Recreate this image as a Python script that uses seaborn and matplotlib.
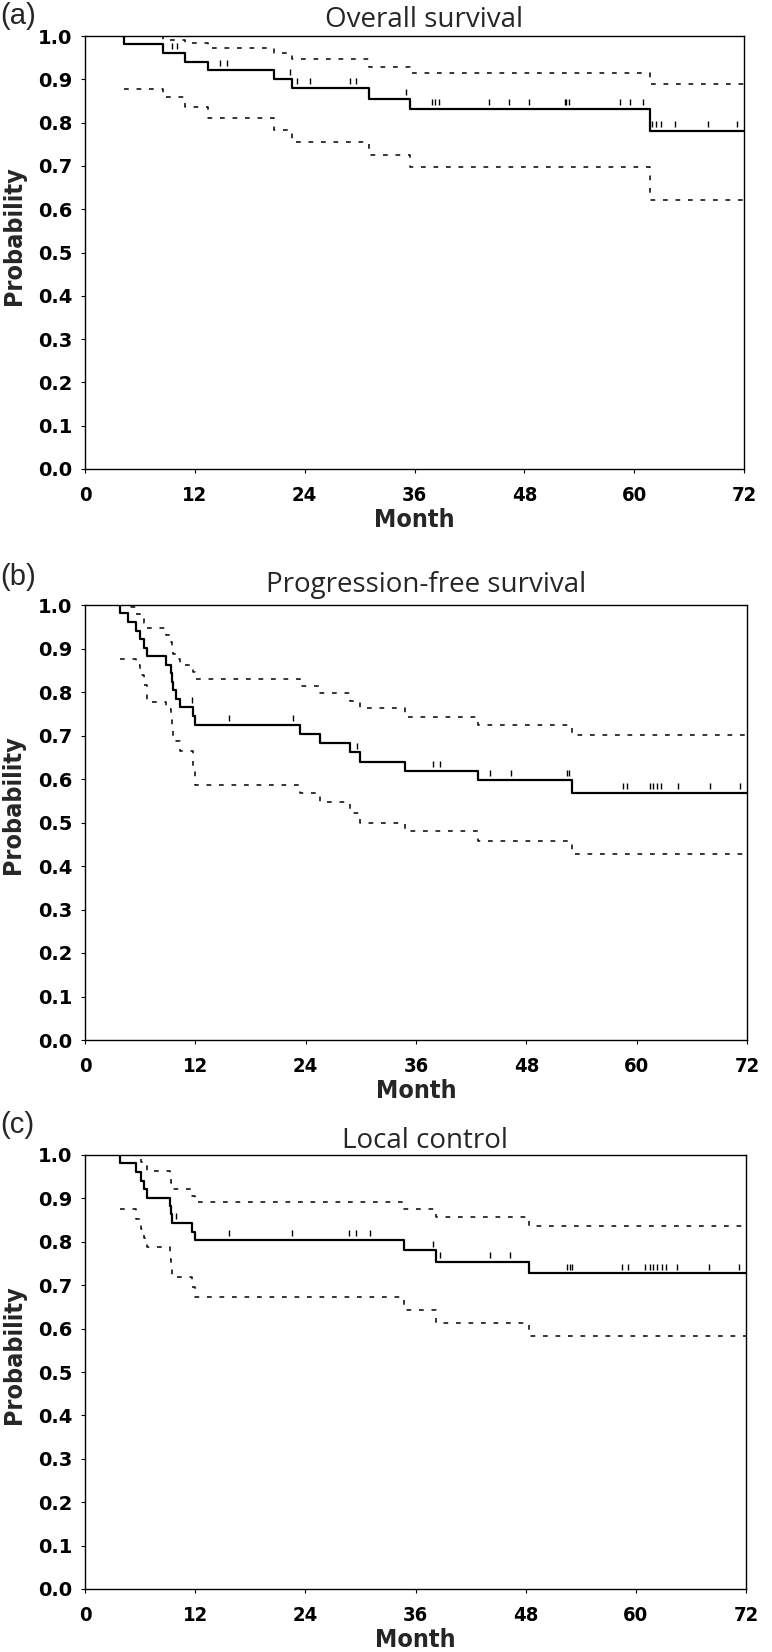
import numpy as np
import matplotlib
matplotlib.use("Agg")
import matplotlib.pyplot as plt
import seaborn as sns

# (a) Overall survival
os_time = [4.3, 8.5, 10.9, 13.4, 20.6, 22.6, 31.0, 35.5, 61.7]
os_surv = [0.981, 0.961, 0.940, 0.921, 0.901, 0.879, 0.854, 0.831, 0.781]
os_upper = [1.0, 0.991, 0.983, 0.972, 0.960, 0.946, 0.929, 0.914, 0.888]
os_lower = [0.877, 0.860, 0.835, 0.810, 0.783, 0.755, 0.725, 0.698, 0.621]
os_censor = [9.5, 10.0, 14.8, 15.5, 22.4, 23.2, 24.6, 28.9, 29.6, 35.1, 37.9, 38.2,
             38.7, 44.1, 46.3, 48.5, 52.4, 52.6, 52.9, 58.5, 59.5, 61.0, 61.9, 62.4,
             62.9, 64.5, 68.1, 71.2]

# (b) Progression-free survival
pfs_time = [3.8, 4.7, 5.6, 6.0, 6.4, 6.7, 8.8, 9.3, 9.45, 9.6, 9.9, 10.3, 11.7, 12.0,
            23.4, 25.6, 28.8, 29.9, 34.8, 42.7, 53.0]
pfs_surv = [0.981, 0.961, 0.941, 0.922, 0.902, 0.882, 0.863, 0.843, 0.824, 0.804, 0.784,
            0.765, 0.745, 0.725, 0.703, 0.683, 0.661, 0.640, 0.619, 0.597, 0.567]
pfs_upper = [1.0, 0.995, 0.98, 0.97, 0.958, 0.946, 0.93, 0.915, 0.90, 0.888, 0.875,
             0.862, 0.845, 0.830, 0.814, 0.797, 0.78, 0.763, 0.743, 0.724, 0.701]
pfs_lower = [0.875, 0.875, 0.862, 0.84, 0.815, 0.778, 0.76, 0.735, 0.715, 0.70, 0.687,
             0.665, 0.62, 0.586, 0.567, 0.546, 0.521, 0.50, 0.48, 0.458, 0.428]
pfs_censor = [11.6, 15.7, 22.6, 29.6, 37.9, 38.6, 44.0, 46.3, 52.4, 52.65, 58.5, 58.9,
              61.4, 61.8, 62.2, 62.6, 64.5, 68.0, 71.2]

# (c) Local control
lc_time = [3.8, 5.6, 6.1, 6.4, 6.7, 9.3, 9.4, 9.5, 11.7, 12.0, 34.75, 38.2, 48.4]
lc_surv = [0.981, 0.961, 0.941, 0.922, 0.902, 0.882, 0.863, 0.843, 0.823, 0.804,
           0.780, 0.754, 0.727]
lc_upper = [1.0, 0.995, 0.985, 0.975, 0.962, 0.95, 0.935, 0.922, 0.905, 0.892,
            0.876, 0.856, 0.836]
lc_lower = [0.875, 0.853, 0.83, 0.808, 0.787, 0.76, 0.74, 0.718, 0.695, 0.672,
            0.643, 0.614, 0.582]
lc_censor = [9.9, 15.7, 22.6, 28.8, 29.5, 31.0, 37.9, 38.7, 44.1, 46.3, 52.5, 52.8,
             53.1, 58.5, 59.2, 61.0, 61.5, 61.9, 62.3, 62.8, 63.3, 64.5, 68.0, 71.2]

titles = ["Overall survival", "Progression-free survival", "Local control"]
letters = ["(a)", "(b)", "(c)"]
x_ticks = [0, 12, 24, 36, 48, 60, 72]
y_ticks = [0.0, 0.1, 0.2, 0.3, 0.4, 0.5, 0.6, 0.7, 0.8, 0.9, 1.0]
t_max = 72

panels = [
    (os_time, os_surv, os_upper, os_lower, os_censor),
    (pfs_time, pfs_surv, pfs_upper, pfs_lower, pfs_censor),
    (lc_time, lc_surv, lc_upper, lc_lower, lc_censor),
]

sns.set_theme(style="ticks", rc={
    "axes.edgecolor": "black",
    "axes.linewidth": 1.0,
    "xtick.color": "black",
    "ytick.color": "black",
    "xtick.major.size": 3,
    "ytick.major.size": 3,
    "lines.scale_dashes": False,
})
plt.rcParams["font.family"] = ["DejaVu Sans"]

W, H = 772, 1652
fig = plt.figure(figsize=(W / 100, H / 100), dpi=100)

# axes boxes in pixels: left, top, right, bottom
boxes = [(85, 36, 744, 469), (85, 605, 747, 1040), (85, 1155, 746, 1589)]
title_pads = [6.5, 9.5, 5.0]
letter_tops = [2, 563, 1111]


def km_at(times, values, t):
    idx = np.searchsorted(times, t, side="right") - 1
    vals = np.asarray(values)
    return np.where(idx >= 0, vals[np.clip(idx, 0, None)], 1.0)


for i, (times, surv, upper, lower, censor) in enumerate(panels):
    l, t, r, b = boxes[i]
    ax = fig.add_axes([l / W, 1 - b / H, (r - l) / W, (b - t) / H])

    # KM curve: vertical drop from 1.0 at the first event
    kx = [times[0]] + list(times) + [t_max]
    ky = [1.0] + list(surv) + [surv[-1]]
    sns.lineplot(x=kx, y=ky, ax=ax, color="black", lw=1.6, drawstyle="steps-post",
                 estimator=None, sort=False)

    # confidence bands
    cx = list(times) + [t_max]
    for band in (upper, lower):
        cy = list(band) + [band[-1]]
        sns.lineplot(x=cx, y=cy, ax=ax, color="black", lw=1.1, drawstyle="steps-post",
                     estimator=None, sort=False, linestyle=(0, (3.4, 5.6)))

    # censor marks, drawn just above the curve
    cy = km_at(times, surv, censor) + 0.016
    ax.plot(censor, cy, ls="none", marker="|", ms=4.5, mew=1.0, color="black")

    ax.set_xlim(0, t_max)
    ax.set_ylim(0, 1.0)
    ax.set_xticks(x_ticks)
    ax.set_yticks(y_ticks)
    ax.set_xticklabels([str(v) for v in x_ticks], fontsize=14.5, fontweight="bold",
                       fontstretch="condensed")
    ax.set_yticklabels([f"{v:.1f}" for v in y_ticks], fontsize=14, fontweight="bold")
    ax.tick_params(axis="x", pad=9.5, width=0.8)
    ax.tick_params(axis="y", pad=6, width=0.8)
    for side in ["top", "right", "left", "bottom"]:
        ax.spines[side].set_visible(True)
        ax.spines[side].set_linewidth(1.0)

    ax.set_xlabel("Month", fontsize=18, fontweight="bold", fontstretch="condensed",
                  labelpad=2)
    ax.set_ylabel("Probability", fontsize=18, fontweight="bold", fontstretch="condensed")
    ax.yaxis.set_label_coords(-0.090, 0.54)
    ax.set_title(titles[i], fontsize=20, family=["Open Sans", "DejaVu Sans"],
                 pad=title_pads[i], x=0.515)

    fig.text(0.0, 1 - letter_tops[i] / H, letters[i], fontsize=21,
             family=["Liberation Sans", "DejaVu Sans"], va="top", ha="left")

fig.savefig("out.png", dpi=100)
